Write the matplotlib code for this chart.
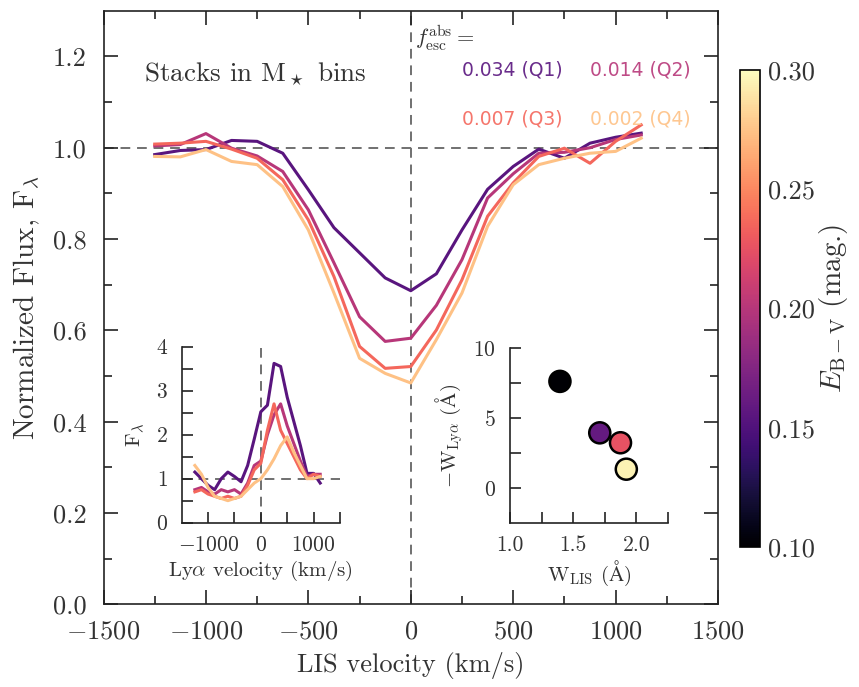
import numpy as np
import matplotlib
matplotlib.use("Agg")
import matplotlib.pyplot as plt
from matplotlib import cm, colors

plt.rcParams['font.family'] = 'serif'
plt.rcParams['font.serif'] = ['cmr10', 'DejaVu Serif']
plt.rcParams['mathtext.fontset'] = 'cm'
plt.rcParams['axes.formatter.use_mathtext'] = True
plt.rcParams['axes.unicode_minus'] = True

# ---------------- data ----------------
vel = [-1250, -1125, -1000, -875, -750, -625, -500, -375, -250, -125, 0,
       125, 250, 375, 500, 625, 750, 875, 1000, 1125]
flux_q1 = [0.985, 0.994, 0.996, 1.016, 1.014, 0.988, 0.908, 0.825, 0.770, 0.715, 0.687,
           0.724, 0.820, 0.909, 0.959, 0.997, 0.977, 1.010, 1.023, 1.032]
flux_q2 = [1.004, 1.007, 1.031, 0.999, 0.982, 0.948, 0.864, 0.748, 0.630, 0.576, 0.583,
           0.655, 0.755, 0.890, 0.943, 0.988, 0.990, 1.000, 1.018, 1.028]
flux_q3 = [1.008, 1.010, 1.014, 0.997, 0.977, 0.930, 0.842, 0.718, 0.565, 0.517, 0.521,
           0.601, 0.711, 0.850, 0.923, 0.981, 0.999, 0.966, 1.014, 1.050]
flux_q4 = [0.981, 0.980, 0.996, 0.970, 0.963, 0.915, 0.820, 0.682, 0.539, 0.506, 0.485,
           0.580, 0.682, 0.828, 0.919, 0.963, 0.977, 0.988, 0.992, 1.021]

lya_q1 = [1.15, 1.00, 0.85, 0.75, 1.00, 1.15, 1.05, 0.93, 1.30, 1.90, 2.52,
          2.67, 3.62, 3.55, 2.85, 2.30, 1.75, 1.12, 1.12, 0.90]
lya_q2 = [0.75, 0.80, 0.70, 0.65, 0.75, 0.70, 0.75, 0.65, 0.90, 1.30, 1.40,
          2.00, 2.45, 2.70, 2.20, 1.80, 1.40, 1.05, 1.10, 1.10]
lya_q3 = [0.70, 0.75, 0.65, 0.60, 0.55, 0.60, 0.55, 0.60, 0.85, 1.20, 1.35,
          2.10, 2.70, 2.10, 1.80, 1.50, 1.20, 1.00, 1.10, 1.05]
lya_q4 = [1.30, 1.10, 0.80, 0.60, 0.55, 0.50, 0.55, 0.60, 0.75, 0.90, 1.00,
          1.20, 1.45, 1.75, 1.95, 1.60, 1.30, 1.00, 1.00, 1.05]

w_lis = [1.395, 1.71, 1.874, 1.92]
w_lya = [7.63, 3.95, 3.24, 1.35]
ebv = [0.10, 0.16, 0.225, 0.295]

fesc_labels = ['0.034 (Q1)', '0.014 (Q2)', '0.007 (Q3)', '0.002 (Q4)']
line_colors = [cm.magma(0.27), cm.magma(0.50), cm.magma(0.68), cm.magma(0.87)]

# ---------------- figure ----------------
fig = plt.figure(figsize=(8.59, 6.87), dpi=100)
ax = fig.add_axes([0.1205, 0.1201, 0.7154, 0.8643])

for f, c in zip([flux_q1, flux_q2, flux_q3, flux_q4], line_colors):
    ax.plot(vel, f, color=c, lw=2.2)

ax.axhline(1.0, color='#707070', ls=(0, (5, 3.5)), lw=1.4, zorder=0)
ax.axvline(0.0, color='#707070', ls=(0, (5, 3.5)), lw=1.4, zorder=0)

ax.set_xlim(-1500, 1500)
ax.set_ylim(0, 1.3)
ax.set_xticks([-1500, -1000, -500, 0, 500, 1000, 1500])
ax.set_xticks(np.arange(-1250, 1500, 500), minor=True)
ax.set_yticks([0.0, 0.2, 0.4, 0.6, 0.8, 1.0, 1.2])
ax.set_yticks(np.arange(0.1, 1.3, 0.2), minor=True)
ax.tick_params(which='both', direction='in', top=True, right=True, labelsize=19,
               color='#222222', labelcolor='#333333')
ax.tick_params(axis='x', which='major', pad=11)
ax.tick_params(axis='y', which='major', pad=12)
ax.tick_params(which='major', length=10, width=1.2)
ax.tick_params(which='minor', length=6, width=1.2)
for s in ax.spines.values():
    s.set_linewidth(1.2)
    s.set_color('#222222')
ax.set_xlabel('LIS velocity (km/s)', fontsize=19, color='#333333', labelpad=6)
ax.set_ylabel(r'Normalized Flux, F$_\lambda$', fontsize=21, color='#333333', labelpad=8)
ax.yaxis.set_major_formatter(matplotlib.ticker.FormatStrFormatter('%.1f'))

ax.text(-1300, 1.16, r'Stacks in M$_\star$ bins', fontsize=19.5, color='#333333',
        va='center', ha='left')
ax.text(20, 1.24, r'$f_{\rm esc}^{\rm abs} =$', fontsize=16, color='#333333',
        va='center', ha='left')
pos = [(250, 1.171), (876, 1.171), (250, 1.064), (876, 1.064)]
for (x, y), t, c in zip(pos, fesc_labels, line_colors):
    ax.text(x, y, t, fontsize=13.5, color=c, family='DejaVu Sans', va='center', ha='left',
            alpha=0.9)

# ---------------- inset 1 ----------------
ax1 = fig.add_axes([0.2115, 0.2392, 0.1843, 0.2562])
for f, c in zip([lya_q1, lya_q2, lya_q3, lya_q4], line_colors):
    ax1.plot(vel, f, color=c, lw=2.2)
ax1.axhline(1.0, color='#707070', ls=(0, (5, 3.5)), lw=1.4, zorder=0)
ax1.axvline(0.0, color='#707070', ls=(0, (5, 3.5)), lw=1.4, zorder=0)
ax1.set_xlim(-1500, 1500)
ax1.set_ylim(0, 4)
ax1.set_xticks([-1000, 0, 1000])
ax1.set_xticks([-500, 500, 1500], minor=True)
ax1.set_yticks([0, 1, 2, 3, 4])
ax1.set_yticks([0.5, 1.5, 2.5, 3.5], minor=True)
ax1.spines['top'].set_visible(False)
ax1.spines['right'].set_visible(False)
ax1.tick_params(which='both', direction='in', labelsize=15.5, length=8, width=1.2,
                color='#222222', labelcolor='#333333')
ax1.tick_params(axis='x', which='major', pad=9)
ax1.tick_params(axis='y', which='major', pad=10)
for s in ax1.spines.values():
    s.set_linewidth(1.2)
    s.set_color('#222222')
ax1.set_xlabel(r'Ly$\alpha$ velocity (km/s)', fontsize=15, color='#333333', labelpad=3)
ax1.set_ylabel(r'F$_\lambda$', fontsize=15, color='#333333', labelpad=6)
ax1.patch.set_alpha(0)

# ---------------- inset 2 ----------------
ax2 = fig.add_axes([0.5937, 0.2387, 0.184, 0.2544])
norm = colors.Normalize(vmin=0.10, vmax=0.30)
sc = ax2.scatter(w_lis, w_lya, c=ebv, cmap='magma', norm=norm, s=230,
                 edgecolors='black', linewidths=1.8, zorder=3)
ax2.set_xlim(1.0, 2.25)
ax2.set_ylim(-2.5, 10)
ax2.set_xticks([1.0, 1.5, 2.0])
ax2.set_xticks([1.25, 1.75, 2.25], minor=True)
ax2.set_yticks([0, 5, 10])
ax2.set_yticks([2.5, 7.5], minor=True)
ax2.xaxis.set_major_formatter(matplotlib.ticker.FormatStrFormatter('%.1f'))
ax2.spines['top'].set_visible(False)
ax2.spines['right'].set_visible(False)
ax2.tick_params(which='both', direction='in', labelsize=15.5, length=8, width=1.2,
                color='#222222', labelcolor='#333333')
ax2.tick_params(axis='x', which='major', pad=9)
ax2.tick_params(axis='y', which='major', pad=10)
for s in ax2.spines.values():
    s.set_linewidth(1.2)
    s.set_color('#222222')
ax2.set_xlabel(r'W$_{\rm LIS}$ ($\rm\AA$)', fontsize=15, color='#333333', labelpad=3)
ax2.set_ylabel(r'$-$W$_{\rm Ly\alpha}$ ($\rm\AA$)', fontsize=15, color='#333333', labelpad=6)
ax2.patch.set_alpha(0)

# ---------------- colorbar ----------------
cax = fig.add_axes([0.8615, 0.2038, 0.0233, 0.6943])
cb = fig.colorbar(cm.ScalarMappable(norm=norm, cmap='magma'), cax=cax)
cb.set_ticks([0.10, 0.15, 0.20, 0.25, 0.30])
cb.ax.yaxis.set_major_formatter(matplotlib.ticker.FormatStrFormatter('%.2f'))
cb.ax.tick_params(length=0, labelsize=19, pad=6, labelcolor='#333333')
cb.outline.set_linewidth(1.2)
cb.set_label(r'$E_{\rm B-V}$ (mag.)', fontsize=21, color='#333333', labelpad=1)

fig.savefig('out.png', dpi=100)
